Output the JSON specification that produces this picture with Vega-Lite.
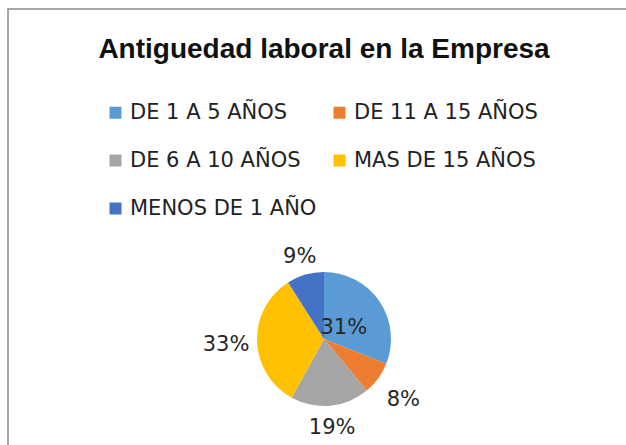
{
  "$schema": "https://vega.github.io/schema/vega-lite/v6.json",
  "width": 632,
  "height": 660,
  "autosize": {"type": "none"},
  "padding": {"left": 8, "top": 9, "right": -14, "bottom": -224},
  "background": "white",
  "view": {"stroke": "#8a8a8a", "strokeWidth": 1.5},
  "config": {
    "view": {"stroke": "#8a8a8a", "strokeWidth": 1.5},
    "font": "DejaVu Sans"
  },
  "title": {
    "text": "Antiguedad laboral en la Empresa",
    "font": "Liberation Sans",
    "fontSize": 28,
    "fontWeight": "bold",
    "color": "#111111",
    "anchor": "middle",
    "frame": "group",
    "offset": 0,
    "dy": 55
  },
  "data": {
    "values": [
      {"cat": "DE 1 A 5 AÑOS", "value": 0.31},
      {"cat": "DE 11 A 15 AÑOS", "value": 0.08},
      {"cat": "DE 6 A 10 AÑOS", "value": 0.19},
      {"cat": "MAS DE 15 AÑOS", "value": 0.33},
      {"cat": "MENOS DE 1 AÑO", "value": 0.09}
    ]
  },
  "layer": [
    {
      "mark": {"type": "arc", "outerRadius": 67},
      "encoding": {
        "theta": {"field": "value", "type": "quantitative", "stack": true},
        "order": {"field": "cat", "type": "ordinal", "sort": "ascending"},
        "color": {
          "field": "cat",
          "type": "nominal",
          "scale": {
            "domain": ["DE 1 A 5 AÑOS", "DE 11 A 15 AÑOS", "DE 6 A 10 AÑOS", "MAS DE 15 AÑOS", "MENOS DE 1 AÑO"],
            "range": ["#5B9BD5", "#ED7D31", "#A5A5A5", "#FFC000", "#4472C4"]
          },
          "legend": {
            "title": null,
            "orient": "none",
            "direction": "horizontal",
            "legendX": 97,
            "legendY": 93,
            "columns": 2,
            "symbolType": "square",
            "symbolSize": 144,
            "symbolStrokeWidth": 0,
            "symbolOpacity": 1,
            "labelFont": "DejaVu Sans",
            "labelFontSize": 21,
            "labelColor": "#222222",
            "labelOffset": 4,
            "labelLimit": 400,
            "rowPadding": 26,
            "columnPadding": 12,
            "padding": 0
          }
        }
      }
    },
    {
      "mark": {"type": "text", "radius": 24, "dy": 2, "fontSize": 21, "font": "DejaVu Sans", "fill": "#262626"},
      "encoding": {
        "theta": {"field": "value", "type": "quantitative", "stack": true},
        "order": {"field": "cat", "type": "ordinal", "sort": "ascending"},
        "detail": {"field": "cat", "type": "nominal"},
        "text": {
          "condition": {"test": "datum.cat === 'DE 1 A 5 AÑOS'", "field": "value", "type": "quantitative", "format": ".0%"},
          "value": ""
        }
      }
    },
    {
      "mark": {"type": "text", "radius": 87, "dy": 2, "fontSize": 21, "font": "DejaVu Sans", "fill": "#262626"},
      "encoding": {
        "theta": {"field": "value", "type": "quantitative", "stack": true},
        "order": {"field": "cat", "type": "ordinal", "sort": "ascending"},
        "detail": {"field": "cat", "type": "nominal"},
        "text": {
          "condition": {"test": "datum.cat === 'DE 6 A 10 AÑOS' || datum.cat === 'MENOS DE 1 AÑO'", "field": "value", "type": "quantitative", "format": ".0%"},
          "value": ""
        }
      }
    },
    {
      "mark": {"type": "text", "radius": 98, "dy": 3, "fontSize": 21, "font": "DejaVu Sans", "fill": "#262626"},
      "encoding": {
        "theta": {"field": "value", "type": "quantitative", "stack": true},
        "order": {"field": "cat", "type": "ordinal", "sort": "ascending"},
        "detail": {"field": "cat", "type": "nominal"},
        "text": {
          "condition": {"test": "datum.cat === 'DE 11 A 15 AÑOS' || datum.cat === 'MAS DE 15 AÑOS'", "field": "value", "type": "quantitative", "format": ".0%"},
          "value": ""
        }
      }
    }
  ]
}
